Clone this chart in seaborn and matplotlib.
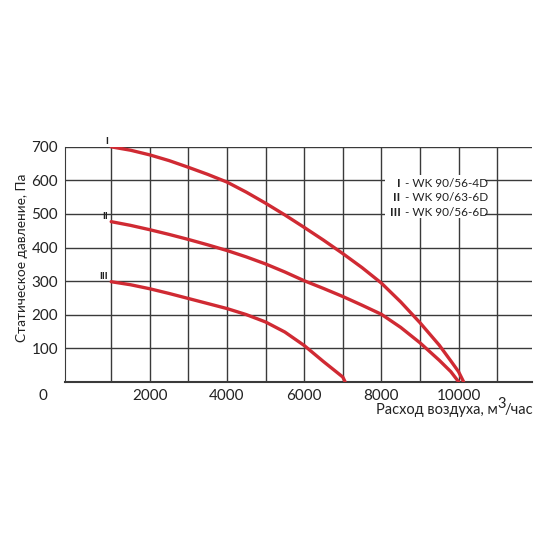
import matplotlib
matplotlib.use('Agg')
import matplotlib.pyplot as plt
from matplotlib.patches import Rectangle
import seaborn as sns
import pandas as pd

# air flow (m3/h) vs static pressure (Pa)
flow_1 = [1000, 1500, 2000, 2500, 3000, 3500, 4000, 4500, 5000, 5500, 6000, 6500, 7000,
          7500, 8000, 8500, 9000, 9500, 9800, 10000, 10130]
press_1 = [700, 690, 676, 659, 639, 618, 595, 565, 532, 497, 460, 422, 382,
           340, 294, 238, 176, 109, 62, 30, 0]

flow_2 = [1000, 1500, 2000, 2500, 3000, 3500, 4000, 4500, 5000, 5500, 6000, 6500, 7000,
          7500, 8000, 8500, 9000, 9500, 9800, 10000]
press_2 = [477, 466, 453, 439, 424, 408, 391, 372, 351, 327, 301, 278, 254,
           228, 201, 162, 116, 64, 30, 0]

flow_3 = [1000, 1500, 2000, 2500, 3000, 3500, 4000, 4500, 5000, 5500, 6000, 6500, 7000, 7060]
press_3 = [298, 289, 277, 263, 248, 233, 218, 200, 178, 148, 108, 60, 14, 0]

curve_names = ['I', 'II', 'III']
legend_models = ['- WK 90/56-4D', '- WK 90/63-6D', '- WK 90/56-6D']
x_ticks = [2000, 4000, 6000, 8000, 10000]
y_ticks = [100, 200, 300, 400, 500, 600, 700]

sns.set_style('white')
plt.rcParams['font.family'] = ['Lato', 'DejaVu Sans']
txt = '#222222'
grid_c = '#3a3a3a'

frames = []
for name, xs, ys in zip(curve_names, [flow_1, flow_2, flow_3], [press_1, press_2, press_3]):
    frames.append(pd.DataFrame({'flow': xs, 'pressure': ys, 'curve': name}))
df = pd.concat(frames, ignore_index=True)

fig = plt.figure(figsize=(5.5, 5.5), dpi=100)
ax = fig.add_axes([0.118, 0.306, 0.849, 0.427])

# grid every 1000 m3/h and 100 Pa
for gx in range(1000, 12001, 1000):
    ax.axvline(gx, color=grid_c, lw=1.0, zorder=1)
for gy in range(100, 701, 100):
    ax.axhline(gy, color=grid_c, lw=1.0, zorder=1)

sns.lineplot(data=df, x='flow', y='pressure', hue='curve', sort=False,
             palette=['#d02a33'] * 3, linewidth=2.4, legend=False, ax=ax, zorder=3)

ax.set_xlim(-200, 11900)
ax.set_ylim(0, 700)
for side in ['top', 'right']:
    ax.spines[side].set_visible(False)
ax.spines['left'].set_color(grid_c)
ax.spines['bottom'].set_color(grid_c)
ax.spines['bottom'].set_linewidth(1.5)

ax.set_xticks(x_ticks)
ax.set_xticks(list(range(1000, 12001, 2000)), minor=True)
ax.set_yticks(y_ticks)
ax.tick_params(axis='both', labelsize=11, colors=txt, length=0, pad=5)
ax.tick_params(axis='x', which='both', direction='out', length=4, width=1.0,
               color=grid_c, pad=1)
ax.set_xlabel('')
ax.set_ylabel('Статическое давление, Па', fontsize=9.8, color=txt)
ax.yaxis.set_label_coords(-0.08, 0.527)

# lone zero in the corner
fig.text(43 / 550, 1 - 396 / 550, '0', fontsize=11, color=txt, ha='center', va='center')

# x label with a full-size raised "3", right edge at the axes end
renderer = fig.canvas.get_renderer()
x_right = 533 / 550
y0 = 1 - 410 / 550
parts = [('Расход воздуха, м', 0.0), ('3', 0.011), ('/час', 0.0)]
pieces = [fig.text(0, y0 + dy, s, fontsize=10.5, color=txt, ha='left', va='center')
          for s, dy in parts]
widths = [p.get_window_extent(renderer).width / fig.bbox.width for p in pieces]
left = x_right - sum(widths) + 0.004
for p, w in zip(pieces, widths):
    p.set_x(left)
    left += w - 0.002

# curve labels at the start of each line
for name, xs, ys in zip(curve_names, [flow_1, flow_2, flow_3], [press_1, press_2, press_3]):
    ax.text(xs[0] - 90, ys[0] + 2, name, fontsize=7, ha='right', va='bottom',
            fontweight='bold', color=txt)

# key for the curves, on a white patch over the grid
ax.add_patch(Rectangle((8090, 488), 2590, 128, facecolor='white', edgecolor='none', zorder=4))
for i, (nm, model) in enumerate(zip(curve_names, legend_models)):
    yy = 592 - i * 44
    ax.text(8500, yy, nm, fontsize=8.5, fontweight='bold', color=txt, ha='right',
            va='center', zorder=5)
    ax.text(8600, yy, model, fontsize=8.5, color=txt, ha='left', va='center', zorder=5)

fig.savefig('out.png', dpi=100)
